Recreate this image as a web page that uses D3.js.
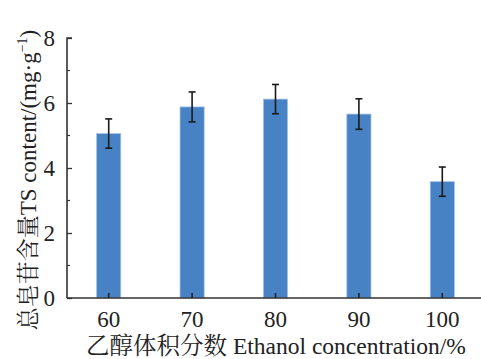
<!DOCTYPE html>
<html>
<head>
<meta charset="utf-8" />
<script src="https://cdn.jsdelivr.net/npm/d3@7/dist/d3.min.js"></script>
<style>
  body { margin: 0; background: #fff; }
</style>
</head>
<body>
<script>
var categories = ["60", "70", "80", "90", "100"];
var values = [5.06, 5.88, 6.12, 5.66, 3.58];
var errors = [0.45, 0.46, 0.45, 0.47, 0.45];
var yTicks = [0, 2, 4, 6, 8];
var yMinor = [1, 3, 5, 7];

var FONT = "'Liberation Serif', 'Noto Serif CJK SC', serif";
var svgWidth = 481, svgHeight = 359;
var margin = {top: 38, right: 0, bottom: 61, left: 67};

var svg = d3.select("body").append("svg")
    .attr("width", svgWidth)
    .attr("height", svgHeight)
    .style("font-family", FONT);

var x = d3.scaleBand()
    .domain(categories)
    .range([margin.left, 484])
    .paddingInner(0.71)
    .paddingOuter(0.355);

var y = d3.scaleLinear()
    .domain([0, 8])
    .range([svgHeight - margin.bottom, margin.top]);

var data = categories.map(function(c, i) { return {c: c, v: values[i], e: errors[i]}; });

// bars
svg.selectAll(".bar").data(data).enter().append("rect")
    .attr("x", function(d) { return x(d.c); })
    .attr("width", x.bandwidth())
    .attr("y", function(d) { return y(d.v); })
    .attr("height", function(d) { return y(0) - y(d.v); })
    .attr("fill", "#4782c4")
    .attr("stroke", "#a9c4e6")
    .attr("stroke-width", 0.8);

// error bars
var eb = svg.selectAll(".err").data(data).enter().append("g")
    .attr("stroke", "#1a1a1a").attr("stroke-width", 1.6);
eb.append("line")
    .attr("x1", function(d) { return x(d.c) + x.bandwidth() / 2; })
    .attr("x2", function(d) { return x(d.c) + x.bandwidth() / 2; })
    .attr("y1", function(d) { return y(d.v + d.e); })
    .attr("y2", function(d) { return y(d.v - d.e); });
[1, -1].forEach(function(s) {
  eb.append("line")
      .attr("x1", function(d) { return x(d.c) + x.bandwidth() / 2 - 3.5; })
      .attr("x2", function(d) { return x(d.c) + x.bandwidth() / 2 + 3.5; })
      .attr("y1", function(d) { return y(d.v + s * d.e); })
      .attr("y2", function(d) { return y(d.v + s * d.e); });
});

// y axis
var yAxis = d3.axisLeft(y).tickValues(yTicks).tickSize(-5).tickPadding(12).tickFormat(d3.format("d"));
var gy = svg.append("g").attr("transform", "translate(" + margin.left + ",0)").call(yAxis);
gy.attr("font-family", null);
gy.select(".domain").attr("stroke", "#333").attr("stroke-width", 1.6).attr("d", "M5," + y(8) + "H0V" + y(0));
gy.selectAll(".tick line").attr("stroke", "#333").attr("stroke-width", 1.3);
gy.selectAll(".tick text").attr("font-size", 23).attr("fill", "#222").style("font-family", FONT);
gy.selectAll(".minor").data(yMinor).enter().append("line")
    .attr("x1", 0).attr("x2", 3)
    .attr("y1", function(d) { return y(d); }).attr("y2", function(d) { return y(d); })
    .attr("stroke", "#333").attr("stroke-width", 1.2);

// x axis
var xAxis = d3.axisBottom(x).tickSize(-5).tickPadding(13);
var gx = svg.append("g").attr("transform", "translate(0," + y(0) + ")").call(xAxis);
gx.attr("font-family", null);
gx.select(".domain").attr("stroke", "#333").attr("stroke-width", 1.6).attr("d", "M" + margin.left + ",0H481");
gx.selectAll(".tick line").attr("stroke", "#222").attr("stroke-width", 1.6);
gx.selectAll(".tick text").attr("font-size", 23).attr("fill", "#222").style("font-family", FONT);

// axis titles
svg.append("text")
    .attr("x", 276).attr("y", 354)
    .attr("text-anchor", "middle")
    .attr("font-size", 23.5)
    .attr("fill", "#222")
    .style("font-family", FONT)
    .text("乙醇体积分数 Ethanol concentration/%");

var yl = svg.append("text")
    .attr("transform", "translate(36,180) rotate(-90)")
    .attr("text-anchor", "middle")
    .attr("font-size", 23)
    .attr("fill", "#222")
    .style("font-family", FONT);
yl.append("tspan").text("总皂苷含量TS content/(mg·g");
yl.append("tspan").attr("font-size", 14).attr("dy", -9).text("−1");
yl.append("tspan").attr("dy", 9).text(")");
</script>
</body>
</html>
